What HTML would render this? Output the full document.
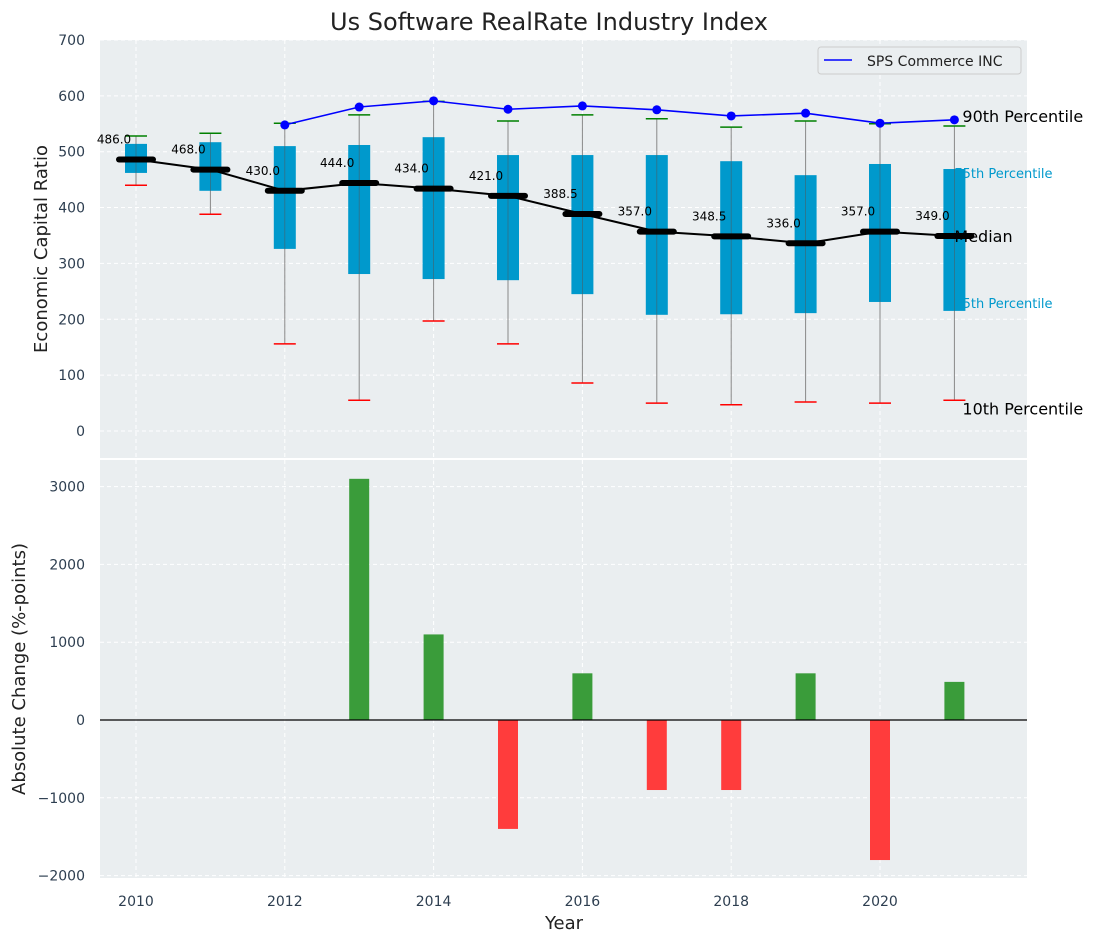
<!DOCTYPE html>
<html><head><meta charset="utf-8"><style>
body{margin:0;background:#fff;font-family:"Liberation Sans","DejaVu Sans",sans-serif;}
svg text{font-family:"DejaVu Sans","Liberation Sans",sans-serif;}
</style></head><body>
<svg id="chart" width="1098" height="942" xmlns="http://www.w3.org/2000/svg"></svg>
<script>
const years=[2010,2011,2012,2013,2014,2015,2016,2017,2018,2019,2020,2021];
const medians=[486,468,430,444,434,421,388.5,357,348.5,336,357,349];
const q1=[462,430,326,281,272,270,245,208,209,211,231,215];
const q3=[514,517,510,512,526,494,494,494,483,458,478,469];
const p10=[440,388,156,55,197,156,86,50,47,52,50,55];
const p90=[528,533,551,566,590,555,566,559,544,555,550,546];
const spsYears=[2012,2013,2014,2015,2016,2017,2018,2019,2020,2021];
const spsValues=[548,580,591,576,582,575,564,569,551,557];
const changeYears=[2013,2014,2015,2016,2017,2018,2019,2020,2021];
const changeValues=[3100,1100,-1400,600,-900,-900,600,-1800,490];
const topTicks=[0,100,200,300,400,500,600,700];
const botTicks=[-2000,-1000,0,1000,2000,3000];
const xTicks=[2010,2012,2014,2016,2018,2020];

const NS="http://www.w3.org/2000/svg";
const svg=document.getElementById('chart');
function el(t,a,p){const e=document.createElementNS(NS,t);for(const k in a)e.setAttribute(k,a[k]);(p||svg).appendChild(e);return e;}
const L=100,R=1027;
const x=v=>136+(v-2010)*74.4;
const yT=v=>431-v*0.5586;
const yB=v=>720-v*0.0778;

let p=el('rect',{x:L,y:40,width:R-L,height:418,fill:'#eaeef0'});

p=el('rect',{x:L,y:460,width:R-L,height:418,fill:'#eaeef0'});


topTicks.forEach(t=>{
 el('line',{x1:L,x2:R,y1:yT(t),y2:yT(t),stroke:'#fff','stroke-dasharray':'4,3','stroke-width':1});
 const tx=el('text',{x:85,y:yT(t)+5,'text-anchor':'end','font-size':14,fill:'#2d3e50'});tx.textContent=t;
 
});
botTicks.forEach(t=>{
 el('line',{x1:L,x2:R,y1:yB(t),y2:yB(t),stroke:'#fff','stroke-dasharray':'4,3','stroke-width':1});
 const tx=el('text',{x:85,y:yB(t)+5,'text-anchor':'end','font-size':14,fill:'#2d3e50'});tx.textContent=t<0?'\u2212'+(-t):t;
 
});
xTicks.forEach(t=>{
 el('line',{x1:x(t),x2:x(t),y1:40,y2:458,stroke:'#fff','stroke-dasharray':'4,3'});
 el('line',{x1:x(t),x2:x(t),y1:460,y2:878,stroke:'#fff','stroke-dasharray':'4,3'});
 const tx=el('text',{x:x(t),y:906,'text-anchor':'middle','font-size':14,fill:'#2d3e50'});tx.textContent=t;
 
});

years.forEach((yr,i)=>{
 const cx=x(yr);
 const w=el('line',{x1:cx,x2:cx,y1:yT(p10[i]),y2:yT(p90[i]),stroke:'#888','stroke-width':1});
 
 const b=el('rect',{x:cx-11,y:yT(q3[i]),width:22,height:yT(q1[i])-yT(q3[i]),fill:'#0099cc'});
 
 el('line',{x1:cx,x2:cx,y1:yT(q3[i]),y2:yT(q1[i]),stroke:'#555','stroke-width':0.8,opacity:0.6});
 const c1=el('line',{x1:cx-11,x2:cx+11,y1:yT(p90[i]),y2:yT(p90[i]),stroke:'green','stroke-width':1.5});
 
 const c2=el('line',{x1:cx-11,x2:cx+11,y1:yT(p10[i]),y2:yT(p10[i]),stroke:'red','stroke-width':1.5});
 
});
let d=years.map((yr,i)=>(i?'L':'M')+x(yr)+','+yT(medians[i])).join(' ');
p=el('path',{d:d,fill:'none',stroke:'#000','stroke-width':2});

years.forEach((yr,i)=>{
 const m=el('line',{x1:x(yr)-17,x2:x(yr)+17,y1:yT(medians[i]),y2:yT(medians[i]),stroke:'#000','stroke-width':6,'stroke-linecap':'round'});
 
 const t=el('text',{x:x(yr)-22,y:yT(medians[i])-16,'text-anchor':'middle','font-size':12,fill:'#000'});t.textContent=medians[i].toFixed(1);
 
});
d=spsYears.map((yr,i)=>(i?'L':'M')+x(yr)+','+yT(spsValues[i])).join(' ');
p=el('path',{d:d,fill:'none',stroke:'blue','stroke-width':1.6});

spsYears.forEach((yr,i)=>{const c=el('circle',{cx:x(yr),cy:yT(spsValues[i]),r:4.5,fill:'blue'});
 });

const lx=x(2021);
[['90th Percentile',8,yT(p90[11])-4,16,'#000'],['75th Percentile',0,yT(q3[11])+9,13,'#0099cc'],['Median',0,yT(medians[11])+6,16,'#000'],['25th Percentile',0,yT(q1[11])-3,13,'#0099cc'],['10th Percentile',8,yT(p10[11])+14,16,'#000']].forEach(a=>{
 const t=el('text',{x:lx+a[1],y:a[2],'font-size':a[3],fill:a[4]});t.textContent=a[0];
 
});

const lg=el('g',{});
el('rect',{x:818,y:47,width:203,height:27,rx:3,fill:'#eaeef0',stroke:'#ccc'},lg);
el('line',{x1:824,x2:852,y1:60,y2:60,stroke:'blue','stroke-width':1.6},lg);
let t=el('text',{x:867,y:66,'font-size':14,fill:'#222'},lg);t.textContent='SPS Commerce INC';

changeYears.forEach((yr,i)=>{
 const v=changeValues[i];
 const r=el('rect',{x:x(yr)-10,y:Math.min(yB(v),yB(0)),width:20,height:Math.abs(yB(v)-yB(0)),fill:v>=0?'#3a9c3a':'#ff3c3c'});
 
});
p=el('line',{x1:L,x2:R,y1:yB(0),y2:yB(0),stroke:'#000','stroke-width':1.3});


t=el('text',{x:549,y:30,'text-anchor':'middle','font-size':24,fill:'#222'});t.textContent='Us Software RealRate Industry Index';

t=el('text',{x:47,y:249,'text-anchor':'middle','font-size':18,fill:'#222',transform:'rotate(-90 47 249)'});t.textContent='Economic Capital Ratio';

t=el('text',{x:25,y:669,'text-anchor':'middle','font-size':18,fill:'#222',transform:'rotate(-90 25 669)'});t.textContent='Absolute Change (%-points)';

t=el('text',{x:564,y:929,'text-anchor':'middle','font-size':18,fill:'#222'});t.textContent='Year';

</script>
</body></html>
